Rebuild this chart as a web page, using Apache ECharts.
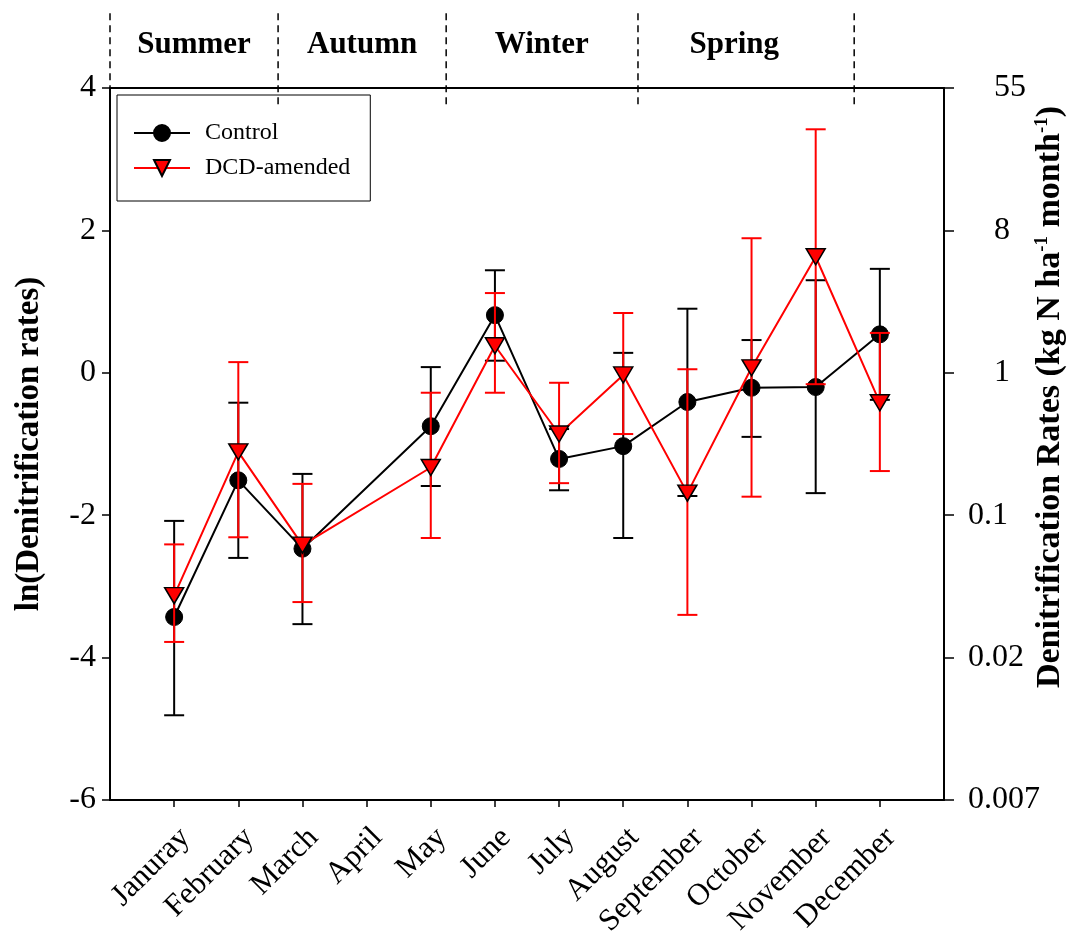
<!DOCTYPE html>
<html>
<head>
<meta charset="utf-8">
<script src="https://cdn.jsdelivr.net/npm/echarts@6/dist/echarts.min.js"></script>
<style>
html,body{margin:0;padding:0;background:#fff;}
#chart{width:1070px;height:936px;}
</style>
</head>
<body>
<div id="chart"></div>
<script>
// ---- data ----
const months = ['Januray','February','March','April','May','June','July','August','September','October','November','December'];
const controlMean  = [-3.43,-1.51,-2.47,null,-0.75,0.81,-1.21,-1.03,-0.41,-0.21,-0.20,0.54];
const controlUpper = [-2.08,-0.42,-1.42,null,0.08,1.44,-0.79,0.28,0.90,0.46,1.30,1.46];
const controlLower = [-4.81,-2.60,-3.53,null,-1.59,0.17,-1.65,-2.32,-1.73,-0.90,-1.69,-0.38];
const dcdMean  = [-3.13,-1.11,-2.42,null,-1.33,0.38,-0.86,-0.03,-1.69,0.07,1.63,-0.42];
const dcdUpper = [-2.41,0.15,-1.56,null,-0.28,1.12,-0.14,0.84,0.05,1.89,3.42,0.56];
const dcdLower = [-3.78,-2.31,-3.22,null,-2.32,-0.28,-1.55,-0.86,-3.40,-1.74,-0.16,-1.38];
const leftTicks = [-6,-4,-2,0,2,4];
const rightTickLabels = ['0.007','0.02','0.1','1','8','55'];
const seasons = ['Summer','Autumn','Winter','Spring'];
const seasonBounds = [0, 2.62, 5.24, 8.23, 11.6];
const seasonCenters = [1.31, 3.93, 6.73, 9.73];

const FONT = '"Liberation Serif", "Times New Roman", serif';
const monthX = months.map((m,i)=>i+1);

function pts(arr){ return arr.map((v,i)=>v===null?null:[i+1,v]).filter(p=>p); }
function bars(lo,hi){ return lo.map((v,i)=>v===null?null:[i+1,v,hi[i]]).filter(p=>p); }

function errRender(color){
  return function(params, api){
    const x = api.value(0), lo = api.value(1), hi = api.value(2);
    const a = api.coord([x, hi]), b = api.coord([x, lo]);
    const hw = 10;
    const st = {stroke: color, lineWidth: 2};
    return {type:'group', children:[
      {type:'line', shape:{x1:a[0],y1:a[1],x2:b[0],y2:b[1]}, style:st},
      {type:'line', shape:{x1:a[0]-hw,y1:a[1],x2:a[0]+hw,y2:a[1]}, style:st},
      {type:'line', shape:{x1:b[0]-hw,y1:b[1],x2:b[0]+hw,y2:b[1]}, style:st}
    ]};
  };
}

const chart = echarts.init(document.getElementById('chart'), null, {renderer:'canvas'});
const axisLineStyle = {color:'#000', width:2};

const option = {
  backgroundColor:'#fff',
  animation:false,
  grid:{left:110, right:126, top:88, bottom:136, containLabel:false, outerBoundsMode:'none'},
  legend:{
    data:['Control','DCD-amended'],
    orient:'vertical', left:117, top:95,
    borderColor:'#000', borderWidth:1,
    padding:[26,20,21,16],
    itemWidth:56, itemHeight:20, itemGap:11,
    textStyle:{fontFamily:FONT, fontSize:24, lineHeight:20, color:'#000', padding:[0,0,0,10]}
  },
  xAxis:[{
    type:'value', min:0, max:13, interval:1,
    axisLine:{show:true, onZero:false, lineStyle:axisLineStyle},
    axisTick:{show:true, length:7, customValues:monthX, lineStyle:{color:'#000', width:1.5}},
    splitLine:{show:false},
    axisLabel:{customValues:monthX, rotate:45, margin:22, verticalAlign:'top',
      fontFamily:FONT, fontSize:31, color:'#000',
      formatter:v=>months[Math.round(v)-1]||''}
  },{
    type:'value', position:'top', min:0, max:13,
    axisLine:{show:true, onZero:false, lineStyle:axisLineStyle},
    axisTick:{show:false}, axisLabel:{show:false}, splitLine:{show:false}
  }],
  yAxis:[{
    type:'value', min:-6, max:4, interval:2, position:'left',
    axisLine:{show:true, onZero:false, lineStyle:axisLineStyle},
    axisTick:{show:true, length:8, lineStyle:{color:'#000', width:1.5}},
    splitLine:{show:false},
    axisLabel:{fontFamily:FONT, fontSize:32, color:'#000', margin:14},
    name:'ln(Denitrification rates)', nameLocation:'middle', nameRotate:90, nameGap:64,
    nameMoveOverlap:false,
    nameTextStyle:{fontFamily:FONT, fontSize:33, fontWeight:'bold', color:'#000'}
  },{
    type:'value', min:-6, max:4, interval:2, position:'right',
    axisLine:{show:true, onZero:false, lineStyle:axisLineStyle},
    axisTick:{show:true, length:10, lineStyle:{color:'#000', width:1.5}},
    splitLine:{show:false},
    axisLabel:{fontFamily:FONT, fontSize:32, color:'#000', margin:24, align:'left',
      formatter:function(v){
        const s = rightTickLabels[leftTicks.indexOf(Math.round(v))];
        return s.indexOf('.')>=0 ? '{d|'+s+'}' : '{i|'+s+'}';
      },
      rich:{
        d:{fontFamily:FONT, fontSize:32, color:'#000'},
        i:{fontFamily:FONT, fontSize:32, color:'#000', padding:[0,0,0,26]}
      }
    },
    name:'{a|Denitrification Rates (kg N ha}{s|-1}{a| month}{s|-1}{a|)}',
    nameLocation:'middle', nameRotate:90, nameGap:88,
    nameMoveOverlap:false,
    nameTextStyle:{padding:[0,0,0,94], rich:{
      a:{fontFamily:FONT, fontSize:34, fontWeight:'bold', color:'#000', lineHeight:36},
      s:{fontFamily:FONT, fontSize:19, fontWeight:'bold', color:'#000', padding:[0,0,15,0]}
    }}
  }],
  series:[
    {
      type:'custom', name:'seasonLines', clip:false, silent:true, z:1,
      data:seasonBounds.map(b=>[b]),
      renderItem:function(params, api){
        const x = api.value(0);
        const a = api.coord([x, 5.05]), b = api.coord([x, 3.76]);
        return {type:'line', shape:{x1:a[0],y1:a[1],x2:b[0],y2:b[1]},
          style:{stroke:'#000', lineWidth:1.5, lineDash:[7,5]}};
      }
    },
    {
      type:'custom', name:'seasonLabels', clip:false, silent:true, z:1,
      data:seasonCenters.map((c,i)=>[c,i]),
      renderItem:function(params, api){
        const p = api.coord([api.value(0), 4.6]);
        return {type:'text', x:p[0], y:p[1],
          style:{text:seasons[api.value(1)], fill:'#000',
            font:'bold 31px ' + FONT, align:'center', verticalAlign:'middle'}};
      }
    },
    {
      type:'custom', name:'ctrlErr', z:2, clip:false, silent:true,
      data:bars(controlLower, controlUpper),
      renderItem:errRender('#000')
    },
    {
      type:'line', name:'Control', z:3,
      data:pts(controlMean),
      symbol:'circle', symbolSize:17,
      lineStyle:{color:'#000', width:2},
      itemStyle:{color:'#000', borderColor:'#000', borderWidth:1}
    },
    {
      type:'custom', name:'dcdErr', z:4, clip:false, silent:true,
      data:bars(dcdLower, dcdUpper),
      renderItem:errRender('#ff0000')
    },
    {
      type:'line', name:'DCD-amended', z:5,
      data:pts(dcdMean),
      symbol:'triangle', symbolRotate:180, symbolSize:[19,16],
      lineStyle:{color:'#ff0000', width:2},
      itemStyle:{color:'#ff0000', borderColor:'#000', borderWidth:1.5}
    }
  ]
};
chart.setOption(option);
</script>
</body>
</html>
